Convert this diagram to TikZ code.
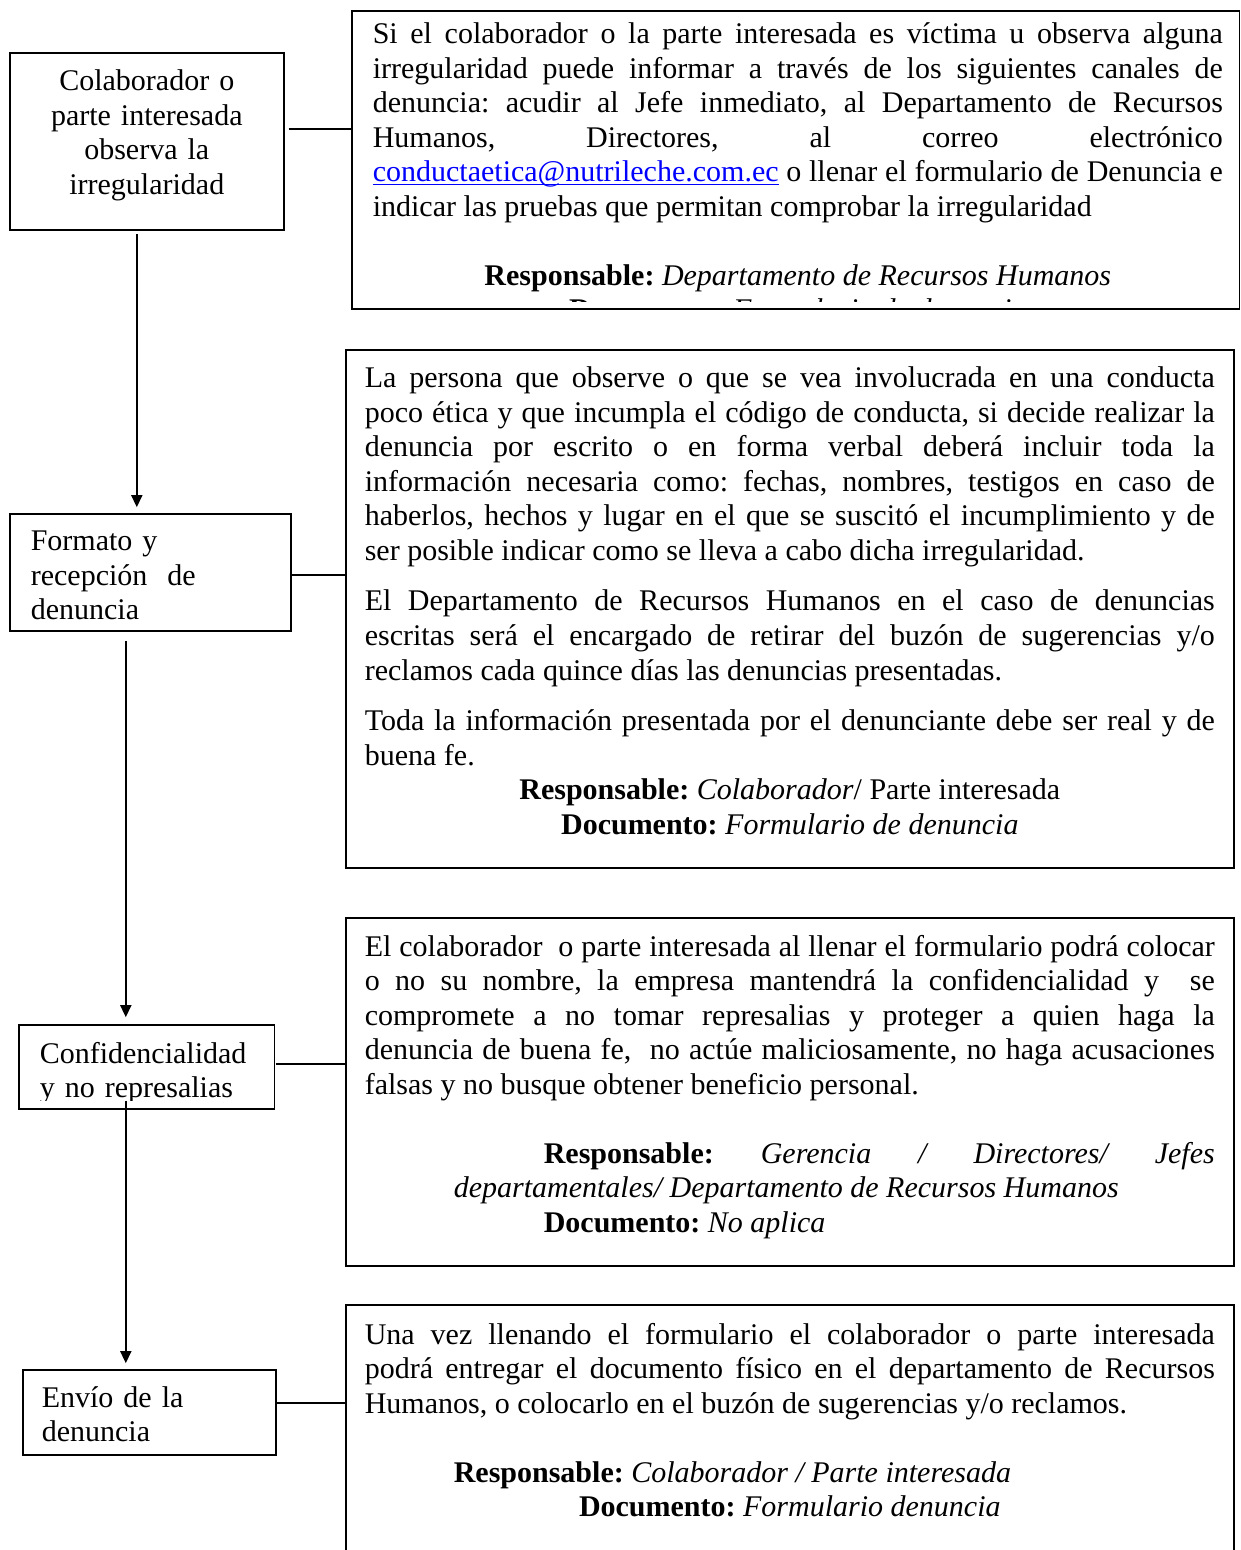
\documentclass[tikz,border=0pt]{standalone}
\usepackage{fontspec}
\setmainfont{Liberation Serif}
\usepackage{tikz}
\usetikzlibrary{positioning,calc,arrows.meta}
\tikzset{edge/.style = {-{Triangle[length=6pt,width=5.5pt]}}}
\tolerance=10000 \hbadness=10000 \hyphenpenalty=10000
\frenchspacing
\newcommand{\correo}[1]{\textcolor{blue}{\underline{\smash{#1}}}}

\begin{document}
\begin{tikzpicture}[x=0.5pt,y=-0.5pt,line width=0.8pt,
    every node/.style={inner ysep=0pt,font=\fontsize{15pt}{17.25pt}\selectfont\frenchspacing},
    main box/.style={anchor=base west},
    text box/.style={anchor=base west,text width=425pt,align=justify,inner xsep=9.5pt}]
        \clip (0,0) rectangle (1240,1550);

        % pasos (izquierda)
        \node[main box,draw,align=center,text width=117pt,inner xsep=10pt,text height=19pt,text depth=69.5pt] (colab) at (9,91)
            {Colaborador o\\ parte interesada\\ observa la\\ irregularidad};
        \node[main box,draw,align=left,text width=119.5pt,inner xsep=10.5pt,text height=18.5pt,text depth=40pt] (formato) at (9,551)
            {Formato y\\ recepción\ \ de\\ denuncia};
        \begin{scope}
            \clip (19,1026) rectangle (273,1100);
            \node[main box,align=left,text width=107pt,inner xsep=10pt,text height=18.5pt,text depth=22.5pt] (confid) at (19,1063)
                {Confidencialidad\\ y no represalias};
        \end{scope}
        \draw (confid.north west) rectangle (confid.south east);
        \node[main box,draw,align=left,text width=107.5pt,inner xsep=9.5pt,text height=18.5pt,text depth=24pt] (envio) at (22,1407)
            {Envío de la\\ denuncia};

        % descripciones (derecha)
        \begin{scope}
            \clip (352,12) rectangle (1240,302);
            \node[text box,inner xsep=10pt,text height=16pt,text depth=132pt] (canales) at (352,44) {%
                Si el colaborador o la parte interesada es víctima u observa alguna\linebreak
                irregularidad puede informar a través de los siguientes canales de\linebreak
                denuncia: acudir al Jefe inmediato, al Departamento de Recursos\linebreak
                Humanos, Directores, al correo electrónico\linebreak
                \correo{conductaetica@nutrileche.com.ec} o llenar el formulario de Denuncia e\linebreak
                indicar las pruebas que permitan comprobar la irregularidad\par
                \vspace{17.25pt}
                {\centering\textbf{Responsable:} \textit{Departamento de Recursos Humanos}\par
                \textbf{Documento:} \textit{Formulario de denuncia}\par}};
        \end{scope}
        \draw (canales.north west) rectangle ($(canales.south east)+(-4,0)$);

        \node[text box,draw,text height=19pt,text depth=240pt] (escrito) at (345,388) {%
            La persona que observe o que se vea involucrada en una conducta\linebreak
            poco ética y que incumpla el código de conducta, si decide realizar la\linebreak
            denuncia por escrito o en forma verbal deberá incluir toda la\linebreak
            información necesaria como: fechas, nombres, testigos en caso de\linebreak
            haberlos, hechos y lugar en el que se suscitó el incumplimiento y de\linebreak
            ser posible indicar como se lleva a cabo dicha irregularidad.\par
            \vspace{8pt}
            El Departamento de Recursos Humanos en el caso de denuncias\linebreak
            escritas será el encargado de retirar del buzón de sugerencias y/o\linebreak
            reclamos cada quince días las denuncias presentadas.\par
            \vspace{8pt}
            Toda la información presentada por el denunciante debe ser real y de\linebreak
            buena fe.\par
            {\centering\textbf{Responsable:} \textit{Colaborador}/ Parte interesada\par
            \textbf{Documento:} \textit{Formulario de denuncia}\par}};

        \node[text box,draw,text height=19pt,text depth=155pt] (reserva) at (345,956) {%
            El colaborador\ \ o parte interesada al llenar el formulario podrá colocar\linebreak
            o no su nombre, la empresa mantendrá la confidencialidad y\ \ se\linebreak
            compromete a no tomar represalias y proteger a quien haga la\linebreak
            denuncia de buena fe,\ \ no actúe maliciosamente, no haga acusaciones\linebreak
            falsas y no busque obtener beneficio personal.\par
            \vspace{17.25pt}
            \hspace*{89.5pt}\textbf{Responsable:} \textit{Gerencia / Directores/ Jefes}\linebreak
            \hspace*{44.5pt}\textit{departamentales/ Departamento de Recursos Humanos}\par
            \hspace*{89.5pt}\textbf{Documento:} \textit{No aplica}\par};

        \node[text box,draw,text height=19.5pt,text depth=130pt] (tramite) at (345,1344) {%
            Una vez llenando el formulario el colaborador o parte interesada\linebreak
            podrá entregar el documento físico en el departamento de Recursos\linebreak
            Humanos, o colocarlo en el buzón de sugerencias y/o reclamos.\par
            \vspace{17.25pt}
            \hspace*{44.5pt}\textbf{Responsable:} \textit{Colaborador / Parte interesada}\par
            {\centering\textbf{Documento:} \textit{Formulario denuncia}\par}};

        % flechas entre pasos
        \draw[edge] ($(colab.south)+(-10,3)$) -- ($(colab.south |- formato.north)+(-10,-6)$);
        \draw[edge] ($(formato.south)+(-24.5,9)$) -- ($(formato.south |- confid.north)+(-24.5,-8)$);
        \draw[edge] ($(confid.south)+(-21,-8)$) -- ($(confid.south |- envio.north)+(-21,-6)$);

        % enlaces con las descripciones
        \draw ($(colab.east)+(4,-12.5)$) -- ($(colab.east -| canales.west)+(0,-12.5)$);
        \draw ($(formato.east)+(0,2.5)$) -- ($(formato.east -| escrito.west)+(0,2.5)$);
        \draw ($(confid.east)+(1,-3)$) -- ($(confid.east -| reserva.west)+(0,-3)$);
        \draw ($(envio.east)+(0,-9.5)$) -- ($(envio.east -| tramite.west)+(0,-9.5)$);
\end{tikzpicture}
\end{document}
